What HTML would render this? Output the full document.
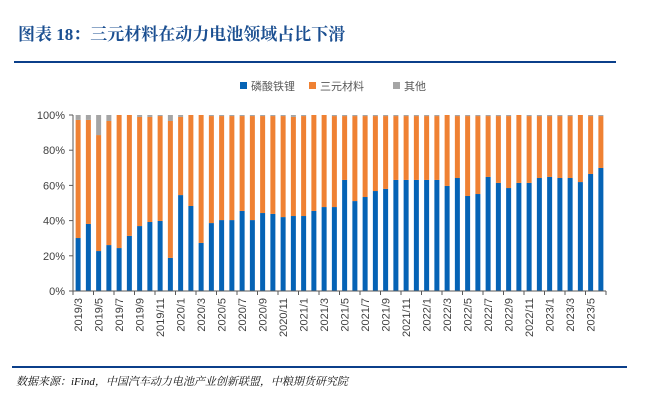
<!DOCTYPE html>
<html><head><meta charset="utf-8">
<style>
body{margin:0;width:650px;height:402px;background:#fff;overflow:hidden;position:relative;font-family:"Liberation Sans","Noto Sans CJK SC",sans-serif;}
.title{position:absolute;left:18px;top:20px;font-family:"Liberation Serif","Noto Serif CJK SC",serif;font-weight:bold;font-size:17px;color:#1b4f91;}
.rule{position:absolute;left:14px;width:602px;height:2px;background:#0b3f8a;}
.src{position:absolute;left:16px;top:373px;font-family:"Liberation Serif","Noto Serif CJK SC",serif;font-style:italic;font-size:11px;color:#111;}
</style></head><body>
<div class="title">图表 18：三元材料在动力电池领域占比下滑</div>
<div class="rule" style="top:61px"></div>
<div class="rule" style="top:366px;left:12px;width:615px"></div>
<div class="src">数据来源：iFind，中国汽车动力电池产业创新联盟，中粮期货研究院</div>
<svg id="chart" width="650" height="402" style="position:absolute;left:0;top:0"></svg>
<script>
const categories=[];
for(let y=2019,m=3;categories.length<52;){categories.push(y+'/'+m);m++;if(m>12){m=1;y++;}}
const lfp=[30.1,38.1,22.7,26.1,24.4,31.3,36.9,39.2,39.8,18.8,54.5,48.3,27.3,38.6,40.3,40.3,45.5,40.3,44.3,43.8,42.0,42.6,42.6,45.5,47.7,47.7,
63.1,51.1,53.4,56.8,58.0,63.1,63.1,63.1,63.1,63.1,59.7,64.2,54.0,55.1,64.8,61.4,58.5,61.4,61.4,64.2,64.8,64.2,64.2,61.9,66.5,69.9];
const lfpNcmTop=[97.2,97.2,88.6,96.6,100,100,98.9,98.9,99.4,96.6,98.9,100,100,99.4,99.4,99.4,99.4,99.4,99.4,99.4,99.4,98.9,99.4,100,100,99.4,
99.4,99.4,99.4,99.4,99.4,99.4,99.4,99.4,99.4,99.4,100,99.4,99.4,99.4,99.4,99.4,99.4,100,99.4,99.4,99.4,99.4,99.4,100,99.4,99.4];
const ncm=lfp.map((v,i)=>lfpNcmTop[i]-v);
const other=lfpNcmTop.map(v=>100-v);
const yTicks=[0,20,40,60,80,100];
const series=[{name:'磷酸铁锂',key:'lfp',vals:lfp,color:'#0563b5'},{name:'三元材料',key:'ncm',vals:ncm,color:'#ef8133'},{name:'其他',key:'other',vals:other,color:'#a5a5a5'}];
const svg=document.getElementById('chart');
const NS='http://www.w3.org/2000/svg';
const L=73,R=606,T=115,B=291;
const band=(R-L)/categories.length;
const x=i=>L+band*i+band/2;
const y=v=>B-(B-T)*v/100;
function mk(t,a){const e=document.createElementNS(NS,t);for(const k in a)e.setAttribute(k,a[k]);svg.appendChild(e);return e;}
// y axis
let ax=mk('line',{x1:L,y1:T,x2:L,y2:B,stroke:'#595959','stroke-width':1});


yTicks.forEach(t=>{
 const tk=mk('line',{x1:L-4,x2:L,y1:y(t),y2:y(t),stroke:'#595959'});
 
 
 const tx=mk('text',{x:L-8,y:y(t)+4,'text-anchor':'end','font-size':11,fill:'#404040'});
 tx.textContent=t+'%';
 
 
});
// bars
categories.forEach((c,i)=>{
 let base=0;
 series.forEach(s=>{
  const v=s.vals[i];
  if(v>0){
   const r=mk('rect',{x:x(i)-2.5,width:5,y:y(base+v),height:y(base)-y(base+v),fill:s.color});
   
   
  }
  base+=v;
 });
});
// x axis
ax=mk('line',{x1:L,y1:B,x2:R,y2:B,stroke:'#595959','stroke-width':1});


for(let i=0;i<=categories.length;i+=2){
 const tk=mk('line',{x1:L+band*i,x2:L+band*i,y1:B,y2:B+4,stroke:'#595959'});
 
 
}
categories.forEach((c,i)=>{
 if(i%2)return;
 const tx=mk('text',{x:0,y:0,'text-anchor':'end','font-size':11,fill:'#404040',transform:`translate(${x(i)+4},${B+7}) rotate(-90)`});
 tx.textContent=c;
 
 
});
// legend
const lx=[240,309,393];
series.forEach((s,k)=>{
 const r=mk('rect',{x:lx[k],y:82,width:7,height:7,fill:s.color});
 
 
 const t=mk('text',{x:lx[k]+11,y:90,'font-size':11,fill:'#595959'});
 t.textContent=s.name;
 
 
});
</script>
</body></html>
